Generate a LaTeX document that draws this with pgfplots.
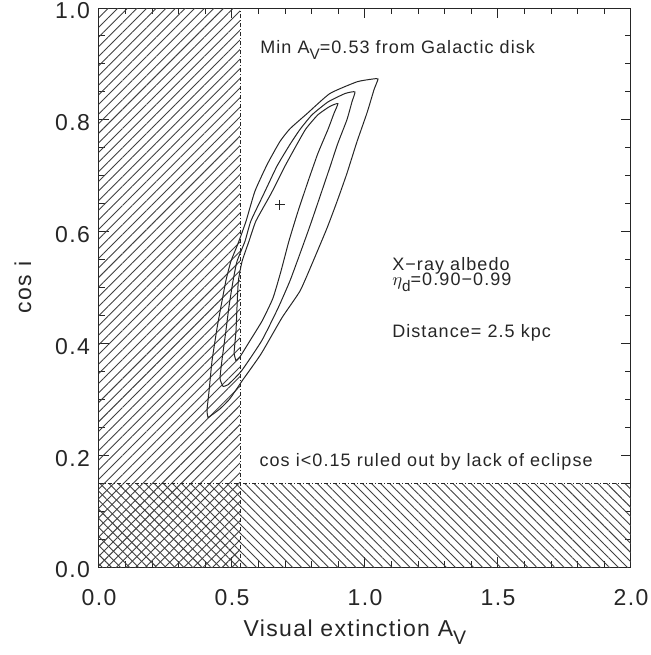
\documentclass[border=0pt]{standalone}
\usepackage{graphicx}
\usepackage{fontspec}
\setmainfont{Liberation Sans}[LetterSpace=6]
\usepackage{pgfplots}
\pgfplotsset{compat=1.18}
\usetikzlibrary{patterns.meta}
\newcommand\sub[1]{\raisebox{-0.6ex}{\scalebox{0.85}{#1}}}
\definecolor{ink}{gray}{0.15}
\begin{document}
\begin{tikzpicture}
\useasboundingbox (0,0) rectangle (325.5pt,327.5pt);
\begin{axis}[
  at={(49.5pt,44pt)}, anchor=south west,
  scale only axis, width=266pt, height=279.5pt,
  xmin=0, xmax=2, ymin=0, ymax=1,
  xtick={0,0.5,1,1.5,2}, xticklabels={0.0,0.5,1.0,1.5,2.0},
  ytick={0,0.2,0.4,0.6,0.8,1}, yticklabels={0.0,0.2,0.4,0.6,0.8,1.0},
  minor x tick num=4, minor y tick num=3,
  major tick length=5pt, minor tick length=3pt,
  tick align=inside, xtick pos=both, ytick pos=both,
  axis line style={ink, line width=0.5pt},
  every tick/.style={ink, line width=0.5pt},
  tick label style={font=\fontsize{11.5}{13}\selectfont, text=ink},
  xticklabel style={anchor=base, yshift=-19pt},
  yticklabel style={xshift=-1pt, yshift=-1.5pt},
  xlabel={Visual extinction A\sub{V}},
  ylabel={cos i},
  label style={font=\fontsize{11.5}{13}\selectfont, text=ink},
  xlabel style={at={(axis description cs:0.481,-0.125)}, anchor=base},
  ylabel style={at={(axis description cs:-0.143,0.5)}, anchor=center},
]
% excluded regions
\addplot[draw=none, pattern={Lines[angle=45,distance=3.4pt,line width=0.45pt]}, pattern color=black!75]
  coordinates {(0,0) (0.53,0) (0.53,1) (0,1)} --cycle;
\addplot[draw=none, pattern={Lines[angle=-45,distance=3.2pt,line width=0.45pt]}, pattern color=black!75]
  coordinates {(0,0) (2,0) (2,0.15) (0,0.15)} --cycle;
\addplot[ink, line width=0.4pt, dash pattern=on 2pt off 1pt on 0.5pt off 1pt] coordinates {(0.53,0) (0.53,1)};
\addplot[ink, line width=0.4pt, dash pattern=on 2pt off 1pt on 0.5pt off 1pt] coordinates {(0,0.15) (2,0.15)};
% outer contour
\addplot[ink, line width=0.5pt, smooth, tension=0.3] coordinates {
(0.410,0.267) (0.455,0.283) (0.492,0.301) (0.538,0.333) (0.609,0.381) (0.688,0.446)
(0.756,0.494) (0.805,0.547) (0.857,0.606) (0.895,0.654) (0.932,0.704) (0.970,0.761)
(1.008,0.813) (1.034,0.854) (1.049,0.873) (1.030,0.873) (0.970,0.868) (0.868,0.847)
(0.782,0.811) (0.718,0.784) (0.680,0.761) (0.632,0.720) (0.586,0.672) (0.553,0.619)
(0.523,0.579) (0.496,0.547) (0.477,0.512) (0.459,0.467) (0.444,0.428) (0.425,0.369)
(0.414,0.316) (0.406,0.280) (0.410,0.267)};
% middle contour
\addplot[ink, line width=0.5pt, smooth, tension=0.3] coordinates {
(0.466,0.323) (0.485,0.326) (0.536,0.351) (0.612,0.405) (0.673,0.463) (0.718,0.512)
(0.756,0.561) (0.793,0.610) (0.831,0.663) (0.868,0.715) (0.898,0.758) (0.932,0.800)
(0.951,0.832) (0.962,0.850) (0.925,0.847) (0.861,0.832) (0.801,0.809) (0.756,0.783)
(0.718,0.756) (0.669,0.717) (0.620,0.668) (0.571,0.619) (0.549,0.583) (0.519,0.547)
(0.504,0.512) (0.489,0.467) (0.477,0.422) (0.462,0.369) (0.455,0.337) (0.466,0.323)};
% inner contour
\addplot[ink, line width=0.5pt, smooth, tension=0.3] coordinates {
(0.515,0.369) (0.530,0.376) (0.560,0.399) (0.613,0.440) (0.654,0.481) (0.684,0.529)
(0.714,0.583) (0.748,0.636) (0.786,0.690) (0.823,0.740) (0.861,0.783) (0.883,0.811)
(0.898,0.829) (0.868,0.824) (0.823,0.809) (0.778,0.784) (0.744,0.756) (0.699,0.717)
(0.647,0.668) (0.590,0.619) (0.564,0.583) (0.538,0.547) (0.524,0.512) (0.519,0.467)
(0.515,0.422) (0.508,0.383) (0.515,0.369)};
% best fit
\addplot[ink, only marks, mark=+, mark size=2.5pt, mark options={line width=0.4pt}] coordinates {(0.680,0.648)};
% annotations
\node[anchor=base west, text=ink, font=\fontsize{9}{11}\selectfont, inner sep=0pt] at (axis cs:0.605,0.918) {Min A\sub{V}=0.53 from Galactic disk};
\node[anchor=base west, text=ink, font=\fontsize{9}{11}\selectfont, inner sep=0pt] at (axis cs:1.101,0.531) {X−ray albedo};
\node[anchor=base west, text=ink, font=\fontsize{9}{11}\selectfont, inner sep=0pt] at (axis cs:1.101,0.503) {$\eta$\sub{d}=0.90−0.99};
\node[anchor=base west, text=ink, font=\fontsize{9}{11}\selectfont, inner sep=0pt] at (axis cs:1.101,0.4105) {Distance= 2.5 kpc};
\node[anchor=base west, text=ink, font=\fontsize{9}{11}\selectfont, inner sep=0pt] at (axis cs:0.602,0.179) {cos i<0.15 ruled out by lack of eclipse};
\end{axis}
\end{tikzpicture}
\end{document}
